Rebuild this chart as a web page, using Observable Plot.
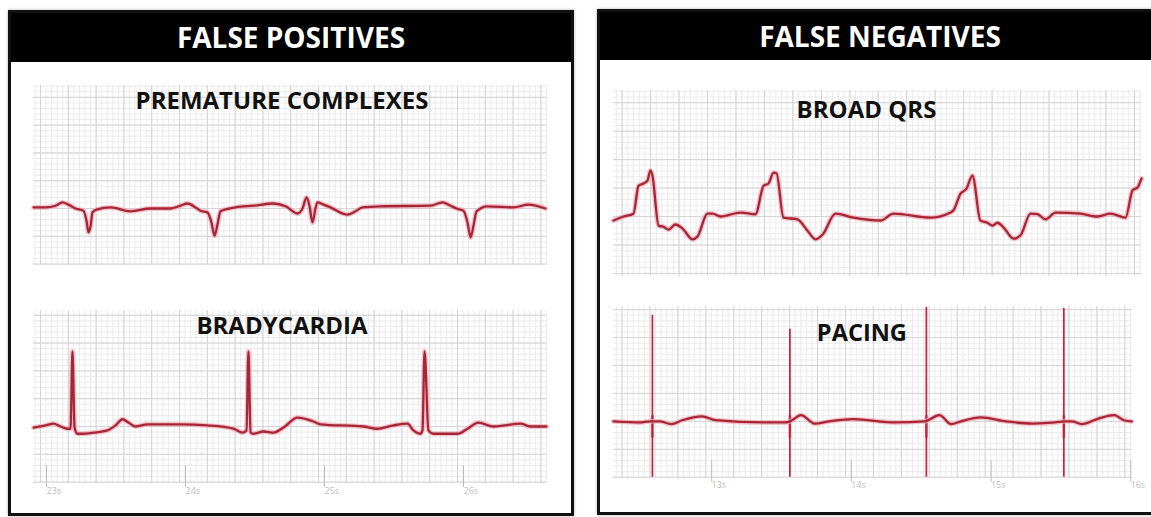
<!DOCTYPE html>
<html><head><meta charset="utf-8">
<script src="https://cdn.jsdelivr.net/npm/d3@7"></script>
<script src="https://cdn.jsdelivr.net/npm/@observablehq/plot@0.6"></script>
<style>
html,body{margin:0;padding:0;background:#fff;}
body{width:1151px;height:517px;overflow:hidden;position:relative;font-family:"Open Sans",sans-serif;}
.panel{position:absolute;box-sizing:border-box;border:3px solid #111;background:#fff;box-shadow:0 0 3px rgba(0,0,0,.3);}
.header{position:absolute;left:0;right:0;top:0;background:#000;color:#fff;font-weight:700;text-align:center;font-size:28px;}
.strip{position:absolute;}
.strip svg{overflow:visible;}
</style></head>
<body>
<div class="panel" style="left:8px;top:10px;width:566px;height:506px"><div class="header" style="height:49px;line-height:49px">FALSE POSITIVES</div></div>
<div class="panel" style="left:597px;top:9px;width:566px;height:506px"><div class="header" style="height:48px;line-height:48px">FALSE NEGATIVES</div></div>
<script>
// Axis tick labels (seconds)
const leftTicks = [23, 24, 25, 26];
const rightTicks = [13, 14, 15, 16];

// Strip titles
const stripTitles = ["PREMATURE COMPLEXES", "BRADYCARDIA", "BROAD QRS", "PACING"];

// PREMATURE COMPLEXES trace: time (s), amplitude (mV)
const prematureTime = [22.950,23.036,23.108,23.158,23.201,23.252,23.309,23.331,23.345,23.360,23.374,23.403,23.504,23.647,23.791,23.935,24.007,24.058,24.115,24.151,24.201,24.230,24.252,24.273,24.295,24.403,24.532,24.676,24.763,24.849,24.885,24.914,24.935,24.957,24.978,24.993,25.036,25.086,25.209,25.266,25.317,25.446,25.806,25.892,25.950,25.993,26.043,26.072,26.094,26.115,26.137,26.216,26.403,26.511,26.633];
const prematureMv   = [0.02,0.02,0.05,0.11,0.07,0,-0.04,-0.22,-0.43,-0.32,-0.07,-0.02,0.02,-0.05,0,0,0.05,0.09,0.02,-0.04,-0.07,-0.25,-0.49,-0.29,-0.05,0.02,0.05,0.09,0.04,-0.09,0,0.20,0.05,-0.25,0,0.11,0.07,0.02,-0.11,-0.05,0.02,0.04,0.05,0.11,0.05,0,-0.04,-0.25,-0.52,-0.31,-0.05,0.04,0.02,0.07,0];

// BRADYCARDIA trace
const bradyTime = [22.950,23.036,23.094,23.144,23.194,23.216,23.230,23.245,23.266,23.288,23.381,23.482,23.540,23.590,23.633,23.683,23.770,24.007,24.201,24.388,24.453,24.482,24.496,24.511,24.532,24.604,24.676,24.748,24.849,24.964,25.014,25.324,25.424,25.540,25.640,25.683,25.734,25.748,25.763,25.791,25.827,26.000,26.072,26.151,26.259,26.453,26.525,26.640];
const bradyMv   = [-0.02,0.02,0.05,0,-0.04,-0.04,1.35,-0.02,-0.13,-0.13,-0.11,-0.07,0.02,0.13,0.07,0,0.04,0.04,0.02,-0.04,-0.11,-0.07,1.35,-0.11,-0.13,-0.09,-0.11,-0.02,0.16,0.09,0.04,0,-0.04,0.02,0.05,-0.07,-0.13,-0.07,1.35,-0.07,-0.13,-0.13,-0.04,0.07,0,0.05,0,0];

// BROAD QRS trace
const broadTime = [12.339,12.410,12.480,12.515,12.550,12.578,12.599,12.613,12.656,12.691,12.726,12.775,12.824,12.895,12.930,13.000,13.035,13.091,13.232,13.337,13.394,13.429,13.464,13.485,13.534,13.632,13.703,13.759,13.808,13.900,14.026,14.216,14.307,14.567,14.708,14.729,14.778,14.820,14.862,14.918,14.968,15.003,15.038,15.080,15.150,15.200,15.270,15.319,15.375,15.446,15.621,15.741,15.832,15.938,15.987,16.022,16.050];
const broadMv   = [-0.07,0,0.05,0.54,0.58,0.63,0.81,0.72,-0.16,-0.18,-0.23,-0.14,-0.21,-0.40,-0.35,0.05,0.05,0,0.07,0.04,0.54,0.58,0.77,0.76,-0.02,-0.05,-0.25,-0.40,-0.32,0.05,-0.02,-0.07,0.05,-0.02,0.07,0.11,0.40,0.49,0.72,-0.07,-0.11,-0.16,-0.11,-0.19,-0.39,-0.33,0.05,0.04,-0.05,0.07,0.05,0,0.05,-0.02,0.46,0.51,0.67];

// PACING trace (baseline) and pacing spikes
const pacingTime = [12.339,12.529,12.599,12.670,12.754,12.831,12.972,13.070,13.422,13.562,13.604,13.682,13.780,13.885,14.054,14.356,14.567,14.673,14.757,14.827,14.968,15.150,15.340,15.502,15.565,15.621,15.692,15.811,15.924,15.994,16.050];
const pacingMv   = [0,-0.02,0,0,-0.05,0.02,0.09,0.02,-0.02,-0.02,0,0.11,-0.04,0,0.04,-0.02,0,0.11,-0.05,0,0.07,0,-0.04,-0.02,0,0,-0.05,0.05,0.11,0.02,0];
const spikeTime   = [12.618, 13.602, 14.579, 15.563];
const spikeTop    = [1.90, 1.65, 2.04, 2.02];
const spikeBottom = [-1.0, -1.0, -1.0, -1.0];

function gridVals(a, b, step) {
  const n0 = Math.ceil(a / step - 1e-6), n1 = Math.floor(b / step + 1e-6);
  return d3.range(n0, n1 + 1).map(i => +(i * step).toFixed(4));
}

function strip(cfg) {
  const {left, top, gridW, gridH, t0, t1, v0, v1, time, mv, title, titleDx, titleDy, ticks, extraRight = 0, spikes} = cfg;
  const axisH = ticks ? 30 : 0;
  const pts = time.map((t, i) => ({t, v: mv[i]}));
  const marks = [
    Plot.ruleX(gridVals(t0, t1, 0.04), {stroke: "#ebebeb", strokeWidth: 1}),
    Plot.ruleY(gridVals(v0, v1, 0.1), {stroke: "#ebebeb", strokeWidth: 1}),
    Plot.ruleX(gridVals(t0, t1, 0.2), {stroke: "#d4d4d4", strokeWidth: 1}),
    Plot.ruleY(gridVals(v0, v1, 0.5), {stroke: "#d4d4d4", strokeWidth: 1}),
    Plot.text([title], {frameAnchor: "top", lineAnchor: "middle", dx: titleDx, dy: titleDy, text: d => d, fontSize: 24, fontWeight: 700, fill: "#111", fontFamily: "Open Sans"})
  ];
  if (spikes) {
    const sp = spikes.time.map((t, i) => ({t, top: spikes.top[i], bottom: spikes.bottom[i]}));
    marks.push(Plot.ruleX(sp, {x: "t", y1: "bottom", y2: "top", stroke: "#cc2438", strokeWidth: 1.8}));
    marks.push(Plot.ruleX(sp, {x: "t", y1: d => -0.3, y2: d => 0.1, stroke: "#c41e34", strokeWidth: 2.6, strokeOpacity: 0.8}));
  }
  marks.push(
    Plot.line(pts, {x: "t", y: "v", curve: "monotone-x", stroke: "#eeaab2", strokeWidth: 5, strokeOpacity: 0.7, strokeLinejoin: "round"}),
    Plot.line(pts, {x: "t", y: "v", curve: "monotone-x", stroke: "#a82538", strokeWidth: 2.3, strokeLinejoin: "round"})
  );
  if (ticks) {
    marks.push(Plot.axisX({ticks, label: null, tickSize: 22, tickPadding: 0, tickFormat: d => d + "s", textAnchor: "start", dx: 6, dy: -18, fontSize: 9, color: "#bcbcbc"}));
  }
  const chart = Plot.plot({
    width: gridW + extraRight, height: gridH + axisH,
    marginLeft: 0, marginRight: extraRight, marginTop: 0, marginBottom: axisH,
    x: {domain: [t0, t1], axis: null, label: null},
    y: {domain: [v0, v1], axis: null},
    style: {background: "transparent", fontFamily: "Open Sans"},
    marks
  });
  const wrap = document.createElement("div");
  wrap.className = "strip";
  wrap.style.left = left + "px";
  wrap.style.top = top + "px";
  wrap.appendChild(chart);
  document.body.appendChild(wrap);
}

const lt0 = 22.9496, lt1 = 26.6403;
const rt0 = 12.3394, rt1 = 16.0499;

strip({left: 33, top: 85, gridW: 513, gridH: 180, t0: lt0, t1: lt1, v0: -1.025, v1: 2.212,
  time: prematureTime, mv: prematureMv, title: stripTitles[0], titleDx: -8, titleDy: 16});
strip({left: 33, top: 310, gridW: 513, gridH: 173, t0: lt0, t1: lt1, v0: -1.025, v1: 2.086,
  time: bradyTime, mv: bradyMv, title: stripTitles[1], titleDx: -8, titleDy: 16, ticks: leftTicks});
strip({left: 613, top: 90, gridW: 528, gridH: 186, t0: rt0, t1: rt1, v0: -1.054, v1: 2.214,
  time: broadTime, mv: broadMv, title: stripTitles[2], titleDx: -11, titleDy: 20});
strip({left: 613, top: 306, gridW: 528, gridH: 175, t0: rt0, t1: rt1, v0: -1.019, v1: 2.056,
  time: pacingTime, mv: pacingMv, title: stripTitles[3], titleDx: -11, titleDy: 27, ticks: rightTicks, extraRight: 20,
  spikes: {time: spikeTime, top: spikeTop, bottom: spikeBottom}});
</script>
</body></html>
